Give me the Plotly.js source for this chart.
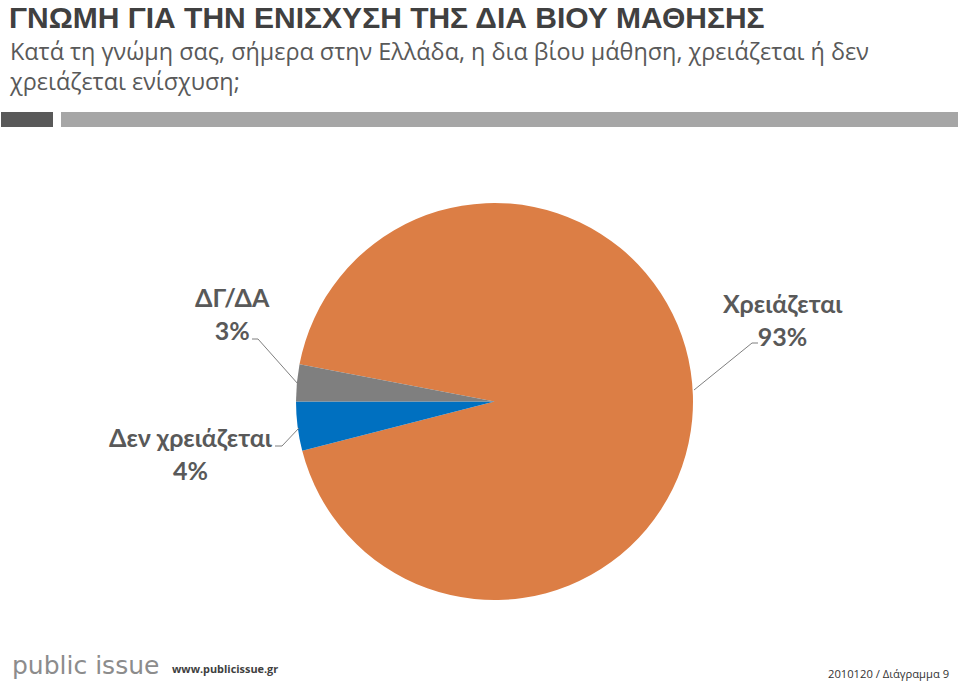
<!DOCTYPE html>
<html>
<head>
<meta charset="utf-8">
<script src="https://cdn.plot.ly/plotly-3.0.1.min.js"></script>
<style>html,body{margin:0;padding:0;background:#fff}#chart{width:960px;height:682px}</style>
</head>
<body>
<div id="chart"></div>
<script>
// Data
var categories = ["Χρειάζεται", "Δεν χρειάζεται", "ΔΓ/ΔΑ"];
var values = [93, 4, 3];
var colors = ["#DC7E45", "#0070C0", "#7F7F7F"];

var title = "ΓΝΩΜΗ ΓΙΑ ΤΗΝ ΕΝΙΣΧΥΣΗ ΤΗΣ ΔΙΑ ΒΙΟΥ ΜΑΘΗΣΗΣ";
var subtitle1 = "Κατά τη γνώμη σας, σήμερα στην Ελλάδα, η δια βίου μάθηση, χρειάζεται ή δεν";
var subtitle2 = "χρειάζεται ενίσχυση;";

var W = 960, H = 682;
function px(x) { return x / W; }
function py(y) { return 1 - y / H; }

var total = values.reduce(function (a, b) { return a + b; }, 0);

var trace = {
  type: "pie",
  labels: categories,
  values: values,
  sort: false,
  direction: "clockwise",
  rotation: 280.8,
  marker: { colors: colors, line: { width: 0 } },
  textinfo: "none",
  hoverinfo: "label+percent",
  showlegend: false,
  domain: { x: [px(296), px(693)], y: [py(600), py(203)] }
};

// label positions (pixels) & leader lines
var labelPos = [
  { x: 783, y: 319, path: [[758, 343], [752, 343], [694, 390]] },
  { x: 191, y: 453, path: [[275, 446], [282, 446], [299, 428]] },
  { x: 232, y: 313, path: [[252, 339], [258, 339], [298, 384]] }
];

var annotations = [];
var shapes = [];

labelPos.forEach(function (p, i) {
  var pct = Math.round(values[i] / total * 100);
  annotations.push({
    xref: "paper", yref: "paper", x: px(p.x), y: py(p.y),
    xanchor: "center", yanchor: "middle", showarrow: false,
    text: categories[i] + "<br>" + pct + "%",
    font: { family: "Lato, 'Open Sans', sans-serif", size: 25, color: "#595959", weight: 700 }
  });
  var d = p.path.map(function (pt, k) {
    return (k === 0 ? "M" : "L") + px(pt[0]) + "," + py(pt[1]);
  }).join(" ");
  shapes.push({ type: "path", xref: "paper", yref: "paper", path: d,
    line: { color: "#7F7F7F", width: 1 } });
});

// title and subtitle
annotations.push({
  xref: "paper", yref: "paper", x: px(8), y: 1, xanchor: "left", yanchor: "top",
  showarrow: false, text: "<b>" + title + "</b>", borderpad: 0,
  font: { family: "'Liberation Sans', Arial, sans-serif", size: 30, color: "#404040" }
});
annotations.push({
  xref: "paper", yref: "paper", x: px(8), y: py(34), xanchor: "left", yanchor: "top",
  showarrow: false, text: subtitle1 + "<br>" + subtitle2, align: "left", borderpad: 0,
  font: { family: "'Open Sans', sans-serif", size: 23.4, color: "#595959" }
});

// header bars
shapes.push({ type: "rect", xref: "paper", yref: "paper", x0: px(1), x1: px(53), y0: py(127), y1: py(112),
  fillcolor: "#595959", line: { width: 0 } });
shapes.push({ type: "rect", xref: "paper", yref: "paper", x0: px(61), x1: px(958), y0: py(127), y1: py(112),
  fillcolor: "#A6A6A6", line: { width: 0 } });

// footer
annotations.push({
  xref: "paper", yref: "paper", x: px(10), y: py(665), xanchor: "left", yanchor: "middle",
  showarrow: false, text: "public issue",
  font: { family: "'DejaVu Sans', sans-serif", size: 25, color: "#8C8C8C" }
});
annotations.push({
  xref: "paper", yref: "paper", x: px(170), y: py(668), xanchor: "left", yanchor: "middle",
  showarrow: false, text: "<b>www.publicissue.gr</b>",
  font: { family: "'Open Sans', sans-serif", size: 10.9, color: "#404040" }
});
annotations.push({
  xref: "paper", yref: "paper", x: px(951), y: py(673), xanchor: "right", yanchor: "middle",
  showarrow: false, text: "2010120 / Διάγραμμα 9",
  font: { family: "'Open Sans', sans-serif", size: 11.2, color: "#333333" }
});

var layout = {
  width: W, height: H,
  margin: { l: 0, r: 0, t: 0, b: 0 },
  paper_bgcolor: "#ffffff",
  plot_bgcolor: "#ffffff",
  annotations: annotations,
  shapes: shapes
};

Plotly.newPlot("chart", [trace], layout, { displayModeBar: false, staticPlot: true });
</script>
</body>
</html>
